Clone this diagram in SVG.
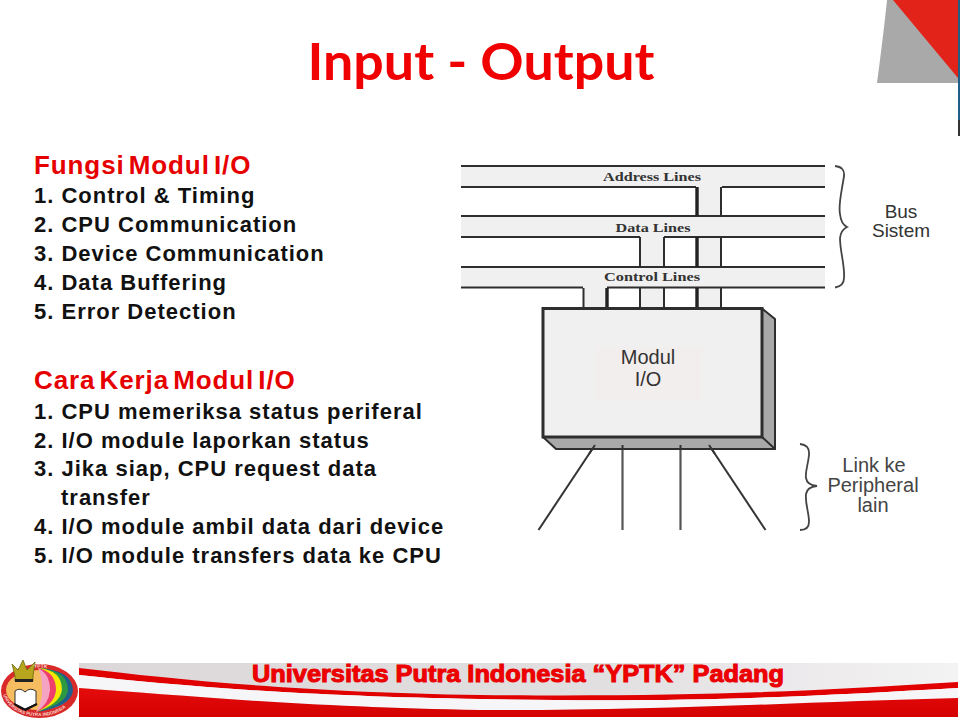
<svg xmlns="http://www.w3.org/2000/svg" width="960" height="720" viewBox="0 0 960 720">
<defs>
<linearGradient id="band" x1="0" y1="0" x2="1" y2="0"><stop offset="0" stop-color="#dcd8da"/><stop offset="0.6" stop-color="#e2dfe1"/><stop offset="1" stop-color="#f4f3f4"/></linearGradient>
<linearGradient id="low" x1="0" y1="0" x2="0" y2="1"><stop offset="0" stop-color="#e50c0c"/><stop offset="1" stop-color="#d40000"/></linearGradient>
<path id="ringTop" d="M30 669Q48 664 68 678"/>
<path id="ringBottom" d="M3 695Q12 716 39 716Q66 716 76 693"/>
</defs>
<style>
.h{font:bold 26px "Liberation Sans",Arial,sans-serif;fill:#e60000;letter-spacing:.9px;word-spacing:-4px}
.t{font:bold 22px "Liberation Sans",Arial,sans-serif;fill:#111;letter-spacing:1px}
.d{font:20px "Liberation Sans",Arial,sans-serif;fill:#333;text-anchor:middle}
.b{font:bold 12.5px "Liberation Serif","Times New Roman",serif;fill:#333;text-anchor:middle}
.f{fill:#f0f0f0;stroke:none}
.l{stroke:#2e2e2e;stroke-width:2;fill:none}
.k{stroke:#222;stroke-width:3.4;fill:none}
.s{fill:#a9a9a9;stroke:#2e2e2e;stroke-width:2;stroke-linejoin:round}
.br{stroke:#444;stroke-width:1.8;fill:none}
.rt{font:bold 5px "Liberation Sans",Arial,sans-serif;fill:#f7d9d0}
</style>
<rect width="960" height="720" fill="#fff"/>

<g id="corner">
<path d="M887 0H958V83H877Q884 30 887 0Z" fill="#a9a9a9"/>
<path d="M893 0H958V78Z" fill="#e2231a"/>
<rect x="958" y="0" width="2" height="120" fill="#1f5f86"/>
<rect x="958" y="120" width="2" height="16" fill="#333"/>
</g>

<text x="481" y="79.500" text-anchor="middle" textLength="347" lengthAdjust="spacingAndGlyphs" style="font:bold 52px Lato,'Open Sans',sans-serif;fill:#f00000">Input - Output</text>

<g id="list-fungsi">
<text class="h" x="34" y="174">Fungsi Modul I/O</text>
<text class="t" x="34" y="203">1. Control &amp; Timing</text>
<text class="t" x="34" y="232">2. CPU Communication</text>
<text class="t" x="34" y="261">3. Device Communication</text>
<text class="t" x="34" y="290">4. Data Buffering</text>
<text class="t" x="34" y="319">5. Error Detection</text>
</g>
<g id="list-cara">
<text class="h" x="34" y="389">Cara Kerja Modul I/O</text>
<text class="t" x="34" y="419">1. CPU memeriksa status periferal</text>
<text class="t" x="34" y="448">2. I/O module laporkan status</text>
<text class="t" x="34" y="476">3. Jika siap, CPU request data</text>
<text class="t" x="61" y="505">transfer</text>
<text class="t" x="34" y="534">4. I/O module ambil data dari device</text>
<text class="t" x="34" y="563">5. I/O module transfers data ke CPU</text>
</g>

<g id="bus-fills">
<rect class="f" x="461" y="166" width="364" height="21"/>
<rect class="f" x="461" y="216" width="364" height="21"/>
<rect class="f" x="461" y="267" width="364" height="21"/>
<rect class="f" x="697" y="187" width="24" height="122"/>
<rect class="f" x="640" y="237" width="24" height="72"/>
<rect class="f" x="583" y="287" width="24" height="22"/>
</g>
<g id="connectors">
<path class="l" d="M461 166H825M461 187H696M722 187H825M461 216H825M461 237H640M664 237H825M461 267H825M461 287.500H583M607 287.500H825"/>
<path class="l" d="M721 187V216M721 237V267M721 288V308M640 237V267M640 288V308M664 237V267M664 288V308M583.500 288V308"/>
<path class="k" d="M697 187V216M697 237V267M697 288V308M607 288V308"/>
<path d="M595 445L538.500 530" stroke="#333" stroke-width="2" fill="none"/>
<path d="M622.500 445V530M680.500 445V530" stroke="#555" stroke-width="2.200" fill="none"/>
<path d="M709 445L765.500 530" stroke="#333" stroke-width="2" fill="none"/>
</g>
<g id="bus-labels">
<text class="b" x="652" y="181" textLength="98" lengthAdjust="spacingAndGlyphs">Address Lines</text>
<text class="b" x="653" y="232" textLength="75" lengthAdjust="spacingAndGlyphs">Data Lines</text>
<text class="b" x="652" y="281" textLength="96" lengthAdjust="spacingAndGlyphs">Control Lines</text>
</g>
<g id="modul">
<path class="s" d="M762 308.500L775 319V449H762Z"/>
<path class="s" d="M543 437H762L775 449H556Z"/>
<rect x="543" y="308.500" width="219" height="128.500" fill="#f0f0f0" stroke="#2e2e2e" stroke-width="3"/>
<rect x="596" y="347" width="106" height="54" fill="#f3eeee"/>
<text class="d" x="648" y="364">Modul</text>
<text class="d" x="648" y="386">I/O</text>
</g>
<path d="M595 445L589 454M709 445L715 454M622.500 445V450M680.500 445V450" stroke="#333" stroke-width="2" fill="none"/>
<g id="bus-brace">
<path class="br" d="M835 166Q845 167 844 176C842 190 838 205 840 214Q841 224 847 227Q841 230 840 238C840 252 845 265 844 278Q844 286 835 287.500"/>
<text x="901" y="218" class="d" style="font-size:19px">Bus</text>
<text x="901" y="237" class="d" style="font-size:19px">Sistem</text>
<rect x="931" y="200" width="10" height="45" fill="#fff"/>
</g>
<g id="link-brace">
<path class="br" d="M800 444Q810 445 809 455C808 465 805 472 806 478Q807 485 817 486Q807 487 806 494C805 504 809 512 809 522Q809 530 800 530"/>
<text x="874" y="472" class="d" style="fill:#444">Link ke</text>
<text x="873" y="492" class="d" style="fill:#444">Peripheral</text>
<text x="873" y="512" class="d" style="fill:#444">lain</text>
</g>

<g id="footer">
<rect x="79" y="663" width="879" height="54" fill="url(#band)"/>
<path d="M79 668C180 680 300 692 480 695C680 697 800 692 958 682V688C800 697 680 703 480 699C300 696 180 686 79 675Z" fill="#e00000"/>
<path d="M79 675C180 686 300 696 480 699C680 703 800 697 958 688V698C800 702 660 711 480 710C300 707 180 695 79 688Z" fill="#f6f6f8"/>
<path d="M79 688C180 695 300 707 480 710C660 711 800 702 958 698V717H79Z" fill="url(#low)"/>
<text x="518" y="682" text-anchor="middle" textLength="532" lengthAdjust="spacingAndGlyphs" style="font:bold 23px 'Liberation Sans',Arial,sans-serif;fill:#f00000;stroke:#e80000;stroke-width:1">Universitas Putra Indonesia “YPTK” Padang</text>
</g>
<g id="logo">
<ellipse cx="39.500" cy="691" rx="38.500" ry="27" fill="#d92a2a"/>
<ellipse cx="39" cy="690" rx="33" ry="20" fill="#f6bd60"/>
<path d="M38 668Q72 670 73 690Q72 706 38 712Q60 700 60 689Q60 676 38 668Z" fill="#1d5e8c"/>
<path d="M38 668Q68 670 68 690Q67 704 36 712Q56 700 55 689Q55 676 38 668Z" fill="#2d9a42"/>
<path d="M38 668Q62 670 62 690Q60 704 36 712Q52 700 50 689Q50 676 38 668Z" fill="#f6e800"/>
<path d="M38 668Q56 672 56 690Q55 704 36 712Q46 700 46 689Q46 676 38 668Z" fill="#ee3f6c"/>
<path d="M38 668Q50 674 50 690Q49 704 36 712Q43 700 42 689Q42 676 38 668Z" fill="#f5a3c2"/>
<path d="M12 664L15 676V681H33V676L35 662L27 670L23 660L18 670Z" fill="#b8a51e" stroke="#6b6a10" stroke-width=".8"/>
<rect x="15" y="679" width="18" height="3" fill="#222"/>
<path d="M15 691Q20 687 25 692Q30 687 36 691V704L25 709L15 704Z" fill="#fff" stroke="#333" stroke-width="1"/>
<path d="M14 704L25 710L37 704" stroke="#111" stroke-width="2" fill="none"/>
<text class="rt"><textPath href="#ringTop" startOffset="4">YPTK</textPath></text>
<text class="rt" style="font-size:4.500px"><textPath href="#ringBottom">UNIVERSITAS PUTRA INDONESIA</textPath></text>
</g>
</svg>
